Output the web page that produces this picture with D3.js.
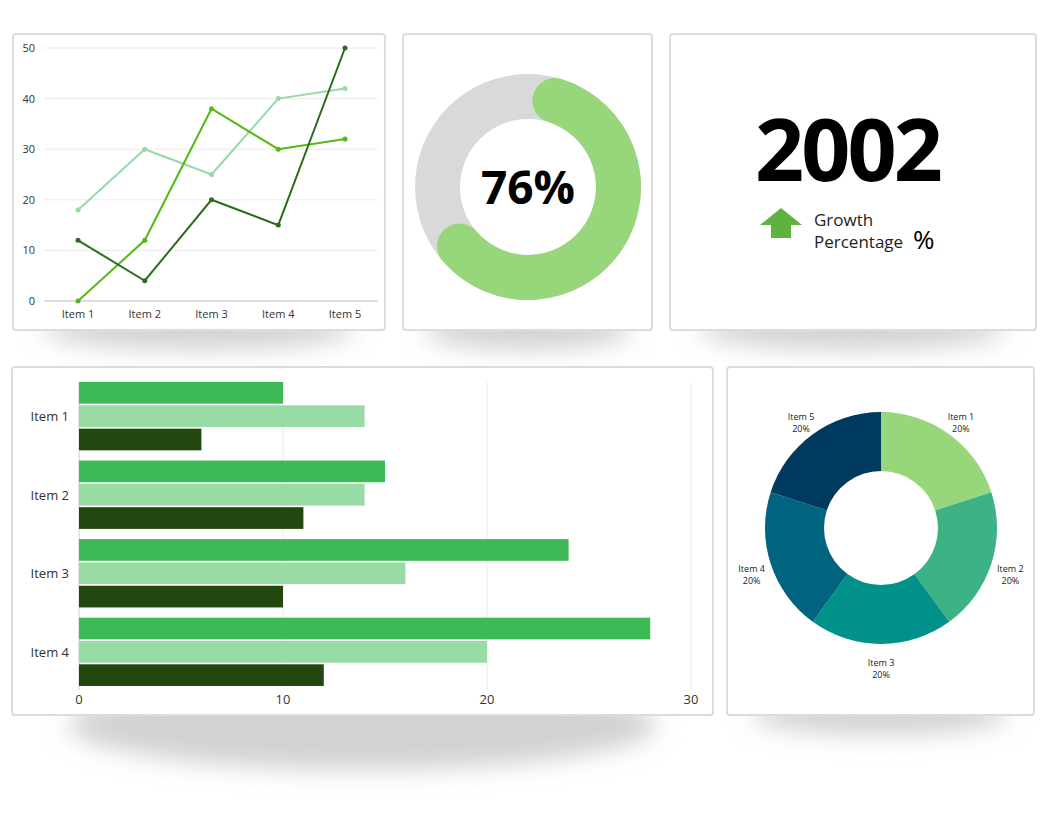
<!DOCTYPE html>
<html><head><meta charset="utf-8">
<script src="https://cdnjs.cloudflare.com/ajax/libs/d3/7.8.5/d3.min.js"></script>
<style>body{margin:0;background:#fff;font-family:"Open Sans",sans-serif;}</style>
</head><body><svg id="c" width="1047" height="828"></svg>
<script>
var lineItems = ["Item 1", "Item 2", "Item 3", "Item 4", "Item 5"];
var lineLight = [18, 30, 25, 40, 42];
var lineMid = [0, 12, 38, 30, 32];
var lineDark = [12, 4, 20, 15, 50];
var gaugeValue = 76;
var bigNumber = "2002";
var barItems = ["Item 1", "Item 2", "Item 3", "Item 4"];
var barA = [10, 15, 24, 28];
var barB = [14, 14, 16, 20];
var barC = [6, 11, 10, 12];
var pieItems = ["Item 1", "Item 2", "Item 3", "Item 4", "Item 5"];
var pieValues = [20, 20, 20, 20, 20];
var pieColors = ["#98d67c", "#3db285", "#00918b", "#006480", "#003a5e"];

var svg = d3.select("#c");
var defs = svg.append("defs");
defs.append("filter").attr("id", "blur").attr("x", "-20%").attr("y", "-100%").attr("width", "140%").attr("height", "300%")
  .append("feGaussianBlur").attr("stdDeviation", 12);

// panels with shadows
var panels = [[13,34,372,296],[403,34,249,296],[670,34,366,296],[12,367,701,348],[727,367,307,348]];
panels.forEach(function (p) {
  svg.append("ellipse").attr("cx", p[0] + p[2] / 2).attr("cy", p[1] + p[3] + (p[2] > 600 ? 10 : 0))
    .attr("rx", p[2] * 0.42).attr("ry", p[2] > 600 ? 45 : 20)
    .attr("fill", "#d2d2d2").attr("filter", "url(#blur)");
});
panels.forEach(function (p) {
  svg.append("rect").attr("x", p[0]).attr("y", p[1]).attr("width", p[2]).attr("height", p[3])
    .attr("rx", 3).attr("fill", "#fff").attr("stroke", "#dcdcdc").attr("stroke-width", 2);
});

// line chart
var lx = d3.scalePoint().domain(lineItems).range([78, 345]);
var ly = d3.scaleLinear().domain([0, 50]).range([301, 48]);
var lg = svg.append("g");
lg.selectAll(".grid").data(ly.ticks(5)).join("line")
  .attr("x1", 44).attr("x2", 378).attr("y1", d => ly(d)).attr("y2", d => ly(d))
  .attr("stroke", d => d === 0 ? "#bbb" : "#ebebeb");
lg.selectAll(".yl").data(ly.ticks(5)).join("text")
  .attr("x", 35).attr("y", d => ly(d) + 4).attr("text-anchor", "end")
  .attr("font-size", 11).attr("fill", "#333").text(d => d);
lg.selectAll(".xl").data(lineItems).join("text")
  .attr("x", d => lx(d)).attr("y", 318).attr("text-anchor", "middle")
  .attr("font-size", 11).attr("fill", "#333").text(d => d);
[[lineLight, "#98d9a5"], [lineMid, "#56b816"], [lineDark, "#2e6b1e"]].forEach(function (s) {
  var line = d3.line().x((d, i) => lx(lineItems[i])).y(d => ly(d));
  lg.append("path").attr("d", line(s[0])).attr("fill", "none").attr("stroke", s[1]).attr("stroke-width", 2);
  lg.selectAll(null).data(s[0]).join("circle")
    .attr("cx", (d, i) => lx(lineItems[i])).attr("cy", d => ly(d)).attr("r", 2.5).attr("fill", s[1]);
});

// gauge (visual sweep as drawn in the reference, caps included)
var gc = svg.append("g").attr("transform", "translate(528,187)");
gc.append("path").attr("d", d3.arc()({innerRadius: 68, outerRadius: 113, startAngle: 0, endAngle: 2 * Math.PI})).attr("fill", "#d9d9d9");
var ga = (gaugeValue / 100) * 2 * Math.PI * 0.88;
gc.append("path").attr("d", d3.arc().cornerRadius(22.5)({innerRadius: 68, outerRadius: 113, startAngle: 0.05, endAngle: ga + 0.05}))
  .attr("fill", "#98d67c");
gc.append("text").attr("y", 17).attr("text-anchor", "middle").attr("font-size", 46).attr("font-weight", "bold")
  .attr("fill", "#000").text(gaugeValue + "%");

// big number
svg.append("text").attr("x", 849).attr("y", 181).attr("text-anchor", "middle").attr("font-size", 86)
  .attr("font-weight", "bold").attr("fill", "#000").attr("textLength", 188).text(bigNumber);
svg.append("path").attr("d", "M760,225 L781,208 L802,225 L791,225 L791,238 L771,238 L771,225 Z").attr("fill", "#5db33e");
svg.append("text").attr("x", 814).attr("y", 226).attr("font-size", 17).attr("fill", "#222").text("Growth");
svg.append("text").attr("x", 814).attr("y", 248).attr("font-size", 17).attr("fill", "#222").text("Percentage");
svg.append("text").attr("x", 913).attr("y", 249).attr("font-size", 26).attr("fill", "#000").text("%");

// bar chart
var bx = d3.scaleLinear().domain([0, 30]).range([79, 691]);
var by = d3.scaleBand().domain(barItems).range([382, 686]).paddingInner(0.13).paddingOuter(0);
var bg = svg.append("g");
bg.selectAll(".g").data(bx.ticks(3)).join("line")
  .attr("x1", d => bx(d)).attr("x2", d => bx(d)).attr("y1", 382).attr("y2", 690)
  .attr("stroke", (d) => d === 0 ? "#ccc" : "#ebebeb");
bg.selectAll(".t").data(bx.ticks(3)).join("text")
  .attr("x", d => bx(d)).attr("y", 704).attr("text-anchor", "middle").attr("font-size", 13).attr("fill", "#333").text(d => d);
bg.selectAll(".yl").data(barItems).join("text")
  .attr("x", 69).attr("y", d => by(d) + by.bandwidth() / 2 + 5).attr("text-anchor", "end")
  .attr("font-size", 13).attr("fill", "#333").text(d => d);
var sub = d3.scaleBand().domain([0, 1, 2]).range([0, by.bandwidth()]).paddingInner(0.07);
[[barA, "#3dba55"], [barB, "#98dba4"], [barC, "#22480f"]].forEach(function (s, k) {
  bg.selectAll(null).data(s[0]).join("rect")
    .attr("x", bx(0)).attr("y", (d, i) => by(barItems[i]) + sub(k))
    .attr("width", d => bx(d) - bx(0)).attr("height", sub.bandwidth()).attr("fill", s[1]);
});

// donut
var pg = svg.append("g").attr("transform", "translate(881,528)");
var arcs = d3.pie().sort(null)(pieValues);
var arc = d3.arc().innerRadius(57).outerRadius(116);
pg.selectAll("path").data(arcs).join("path").attr("d", arc).attr("fill", (d, i) => pieColors[i]);
var la = d3.arc().innerRadius(136).outerRadius(136);
pg.selectAll(".pl").data(arcs).join("text")
  .attr("transform", d => { var c = la.centroid(d); return "translate(" + c[0] + "," + (c[1] + 2) + ")"; })
  .attr("text-anchor", "middle").attr("font-size", 9).attr("fill", "#222")
  .each(function (d, i) {
    d3.select(this).append("tspan").attr("x", 0).text(pieItems[i]);
    d3.select(this).append("tspan").attr("x", 0).attr("dy", 12).text(d.data + "%");
  });
</script></body></html>
